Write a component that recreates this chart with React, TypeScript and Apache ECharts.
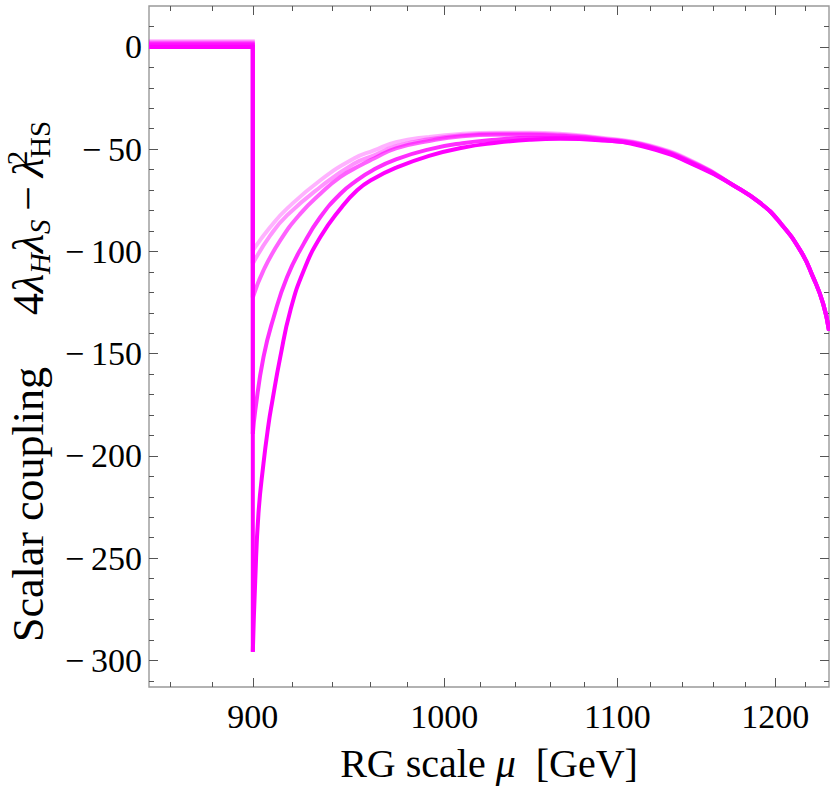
import * as echarts from 'echarts';
import React, { useEffect, useRef } from 'react';

// x axis (log scale, GeV)
const xMin = 850;
const xMax = 1236;
const xMajorTicks = [900, 1000, 1100, 1200];
const xMinorTicks = [860, 880, 920, 940, 960, 980, 1020, 1040, 1060, 1080, 1120, 1140, 1160, 1180, 1220];

// y axis
const yMin = -313;
const yMax = 20;
const yMajorTicks = [0, -50, -100, -150, -200, -250, -300];
const yMinorTicks = [10, 0, -10, -20, -30, -40, -50, -60, -70, -80, -90, -100, -110, -120, -130, -140, -150,
  -160, -170, -180, -190, -200, -210, -220, -230, -240, -250, -260, -270, -280, -290, -300, -310];

// curves, faintest first (drawn underneath)
const curveAlpha = [0.3, 0.42, 0.62, 0.82, 1];
const levelBelow900 = [2.8, 2.2, 1.5, 0.8, 0];
const jumpAt = 900;

const curveA: [number, number][] = [
  [900, -99.5], [908.7, -88.1], [917.1, -79.1], [934.1, -65.2], [951.5, -54.6], [962.1, -50.6],
  [973.8, -46.6], [991.7, -44], [1010, -42.5], [1029, -42], [1048, -42], [1066, -42.5], [1089, -44.3],
  [1120, -48.2], [1151, -57.6],
];
const curveB: [number, number][] = [
  [900, -105.9], [908.7, -92.2], [917.1, -82.4], [934.1, -68.5], [951.5, -57.1], [962.1, -53],
  [973.8, -48.6], [991.7, -45.2], [1010, -43.2], [1029, -42.5], [1048, -42.5], [1066, -43], [1089, -44.6],
  [1120, -48.5], [1151, -57.9],
];
const curveC: [number, number][] = [
  [900, -122.5], [905.3, -109.3], [913.7, -94.6], [923.9, -81.5], [934.1, -71.8], [944.5, -63.6],
  [955.0, -57.9], [962.1, -54.6], [973.8, -49.6], [991.7, -46], [1010, -43.7], [1029, -43],
  [1048, -43], [1066, -43.5], [1089, -44.9], [1120, -48.8], [1151, -58.2],
];
const curveD: [number, number][] = [
  [900, -189.2], [901.2, -177.9], [905.3, -151.7], [910.4, -132.2], [917.1, -112.6], [925.6, -96.2],
  [934.1, -83.2], [944.5, -71.8], [953.2, -65.2], [961.2, -60.4], [973.8, -55], [991.7, -50.1],
  [1010, -47.1], [1029, -45.4], [1048, -44.4], [1066, -44.4], [1089, -45.4], [1120, -49.2], [1151, -58.6],
];
const curveE: [number, number][] = [
  [900, -295.8], [901.2, -261], [902.8, -228.2], [905.3, -203.7], [907.8, -184.7], [909.5, -174.4],
  [913.7, -151.7], [918.8, -128.9], [925.6, -109.3], [934.1, -93], [944.5, -79.1], [953.2, -70.1],
  [961.2, -64.8], [973.8, -59.1], [991.7, -53.3], [1010, -49.3], [1029, -46.9], [1048, -45.4],
  [1066, -44.9], [1089, -45.6], [1120, -49.6], [1151, -58.9],
];
// shared high-scale fall-off
const tail: [number, number][] = [
  [1172, -67.4], [1190, -76.3], [1203, -85.8], [1217, -100], [1225, -112.2], [1232, -125.5], [1236, -138.7],
];
const curves = [curveA, curveB, curveC, curveD, curveE];

const SERIF = '"Liberation Serif", "Times New Roman", serif';

const App: React.FC = () => {
  const chartRef = useRef<HTMLDivElement>(null);

  useEffect(() => {
    const myChart = echarts.init(chartRef.current!, undefined, { renderer: 'svg' });

    const series: any[] = [];
    curves.forEach((curve, i) => {
      const color = `rgba(255,0,255,${curveAlpha[i]})`;
      // flat part below threshold + vertical drop at 900 GeV
      series.push({
        type: 'line',
        data: [[xMin, levelBelow900[i]], [jumpAt, levelBelow900[i]], curve[0]],
        showSymbol: false,
        lineStyle: { color, width: 4, join: 'miter' },
        z: 2 + i,
      });
      series.push({
        type: 'line',
        data: [...curve, ...tail],
        smooth: 0.5,
        showSymbol: false,
        lineStyle: { color, width: 4 },
        z: 2 + i,
      });
    });

    const tickStyle = { color: '#555', width: 1 };
    const xBase = {
      type: 'log', logBase: 10, min: xMin, max: xMax,
      splitLine: { show: false }, axisLine: { show: false, onZero: false },
    };
    const yBase = {
      type: 'value', min: yMin, max: yMax,
      splitLine: { show: false }, axisLine: { show: false, onZero: false },
    };
    const labelText = { fontFamily: SERIF, fontSize: 34, color: '#000' };

    const option = {
      animation: false,
      grid: {
        left: 149, right: 1, top: 6, bottom: 100,
        outerBoundsMode: 'none',
        show: true, borderColor: '#999', borderWidth: 1.4, backgroundColor: 'transparent',
      },
      xAxis: [
        {
          ...xBase, position: 'bottom',
          axisTick: { inside: true, length: 9, lineStyle: tickStyle, customValues: xMajorTicks },
          axisLabel: {
            ...labelText, margin: 12, customValues: xMajorTicks,
            formatter: (v: number) => String(Math.round(v)),
          },
          name: '{t|RG scale }{i|μ}{t|  [GeV]}',
          nameLocation: 'middle',
          nameGap: 56,
          nameTextStyle: {
            rich: {
              t: { fontFamily: SERIF, fontSize: 40, color: '#000' },
              i: { fontFamily: SERIF, fontSize: 40, fontStyle: 'italic', color: '#000' },
            },
          },
        },
        {
          ...xBase, position: 'top',
          axisTick: { inside: true, length: 9, lineStyle: tickStyle, customValues: xMajorTicks },
          axisLabel: { show: false },
        },
        {
          ...xBase, position: 'bottom',
          axisTick: { inside: true, length: 5, lineStyle: tickStyle, customValues: xMinorTicks },
          axisLabel: { show: false },
        },
        {
          ...xBase, position: 'top',
          axisTick: { inside: true, length: 5, lineStyle: tickStyle, customValues: xMinorTicks },
          axisLabel: { show: false },
        },
      ],
      yAxis: [
        {
          ...yBase, position: 'left',
          axisTick: { inside: true, length: 9, lineStyle: tickStyle, customValues: yMajorTicks },
          axisLabel: {
            ...labelText, margin: 7, customValues: yMajorTicks,
            formatter: (v: number) => (v === 0 ? '0' : '\u2212\u2009' + Math.abs(v)),
          },
          name: '{t|Scalar coupling}{g|}{t|4}{i|λ}{s|H}{i|λ}{s|S}{t|\u2009\u2212\u2009}{i|λ}{sup|2}{sub|HS}',
          nameLocation: 'middle',
          nameRotate: 90,
          nameGap: 92,
          nameTextStyle: {
            padding: [0, 70, 0, 0],
            rich: {
              t: { fontFamily: SERIF, fontSize: 44, lineHeight: 52, color: '#000' },
              g: { width: 52, lineHeight: 52 },
              i: { fontFamily: SERIF, fontSize: 44, lineHeight: 52, fontStyle: 'italic', color: '#000' },
              s: { fontFamily: SERIF, fontSize: 29, lineHeight: 29, fontStyle: 'italic', color: '#000', verticalAlign: 'top', padding: [23, 0, 0, 0] },
              sup: { fontFamily: SERIF, fontSize: 29, lineHeight: 29, color: '#000', verticalAlign: 'top', width: 0 },
              sub: { fontFamily: SERIF, fontSize: 29, lineHeight: 29, color: '#000', verticalAlign: 'top', padding: [23, 0, 0, 0] },
            },
          },
        },
        {
          ...yBase, position: 'right',
          axisTick: { inside: true, length: 9, lineStyle: tickStyle, customValues: yMajorTicks },
          axisLabel: { show: false },
        },
        {
          ...yBase, position: 'left',
          axisTick: { inside: true, length: 5, lineStyle: tickStyle, customValues: yMinorTicks },
          axisLabel: { show: false },
        },
        {
          ...yBase, position: 'right',
          axisTick: { inside: true, length: 5, lineStyle: tickStyle, customValues: yMinorTicks },
          axisLabel: { show: false },
        },
      ],
      series,
    };

    myChart.setOption(option);

    return () => {
      myChart.dispose();
    };
  }, []);

  return (
    <div
      ref={chartRef}
      style={{ position: 'absolute', left: 0, top: 0, width: '830px', height: '787px', background: '#fff' }}
    />
  );
};

export default App;
